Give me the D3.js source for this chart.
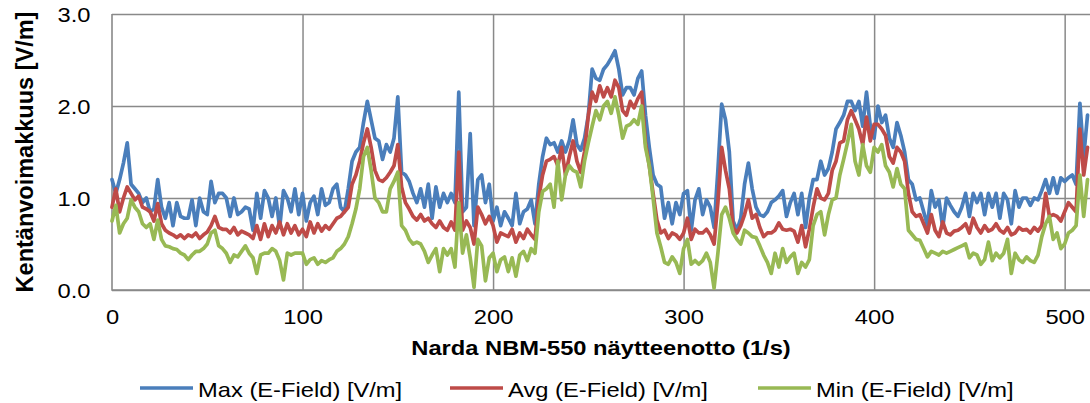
<!DOCTYPE html>
<html>
<head>
<meta charset="utf-8">
<script src="https://cdn.jsdelivr.net/npm/d3@7"></script>
<style>
  html, body { margin: 0; padding: 0; background: #fff; }
  svg { display: block; }
  text { font-family: "Liberation Sans", Arial, sans-serif; fill: #000; }
</style>
</head>
<body>
<div id="chart"></div>
<script>
// Sample step: one reading every 2 samples (0, 2, 4 ... 512)
const sampleStep = 2;

// Max (E-Field) [V/m]
const maxValues = [
  1.2, 1.05, 1.2, 1.38, 1.6, 1.15, 1.1, 1.05, 0.95, 1.0,
  0.85, 0.88, 1.2, 0.9, 0.78, 0.95, 0.7, 0.95, 0.8, 0.78,
  0.78, 0.98, 0.7, 1.0, 0.85, 0.82, 1.18, 0.95, 1.05, 1.05,
  1.0, 0.8, 1.0, 0.82, 0.85, 0.9, 0.88, 0.65, 1.05, 0.78,
  1.08, 1.0, 0.8, 1.0, 0.68, 1.08, 1.0, 0.85, 1.1, 0.82,
  1.05, 0.75, 0.95, 1.02, 0.82, 1.1, 0.92, 0.95, 1.1, 1.15,
  0.9, 0.85, 1.1, 1.4, 1.5, 1.55, 1.82, 2.05, 1.85, 1.65,
  1.62, 1.42, 1.58, 1.5, 1.65, 2.1, 1.28, 1.25, 1.18, 1.05,
  0.95, 1.1, 0.9, 1.15, 0.78, 1.12, 0.9, 1.05, 0.95, 1.05,
  0.95, 2.15, 0.85, 0.9, 1.7, 0.7, 1.2, 1.25, 0.95, 1.15,
  0.75, 0.9, 0.7, 0.85, 0.78, 0.7, 1.05, 0.72, 0.85, 0.88,
  0.98, 0.72, 1.15, 1.45, 1.65, 1.58, 1.6, 1.5, 1.62, 1.5,
  1.62, 1.85, 1.58, 1.52, 1.65, 1.9, 2.4, 2.3, 2.28, 2.4,
  2.45, 2.52, 2.6, 2.4, 2.12, 2.2, 2.2, 2.12, 2.3, 2.38,
  1.9, 1.55, 1.25, 1.15, 1.12, 0.78, 0.95, 0.72, 0.95, 0.82,
  1.05, 1.08, 0.65, 0.98, 1.1, 0.82, 0.98, 0.9, 0.68, 1.3,
  2.02, 1.85, 1.5, 0.75, 0.65, 0.78, 1.15, 1.38, 1.1, 0.9,
  0.82, 0.8, 0.85, 0.95, 0.98, 1.02, 1.08, 0.8, 0.95, 1.05,
  0.82, 1.05, 0.68, 1.0, 1.2, 1.2, 1.4, 1.25, 1.32, 1.5,
  1.75, 1.82, 1.9, 2.05, 2.05, 1.95, 2.05, 1.78, 2.15, 1.78,
  1.65, 2.0, 1.82, 1.9, 1.65, 1.55, 1.82, 1.68, 1.5, 1.2,
  1.15, 0.98, 1.0, 0.85, 0.7, 1.08, 0.9, 0.98, 0.68, 1.0,
  0.92, 0.85, 0.8, 0.9, 1.05, 0.8, 1.05, 0.95, 1.05, 0.82,
  1.05, 0.9, 1.05, 0.78, 1.05, 0.98, 0.72, 1.08, 0.9, 1.0,
  1.0, 0.92, 1.0, 0.98, 1.08, 1.2, 1.05, 1.22, 1.05, 1.22,
  1.18, 1.22, 1.25, 1.15, 2.03, 1.45, 1.9
];

// Avg (E-Field) [V/m]
const avgValues = [
  0.9, 1.1, 0.85, 1.0, 1.12, 1.05, 0.98, 1.02, 0.9, 0.88,
  0.85, 0.75, 0.94, 0.72, 0.65, 0.62, 0.6, 0.57, 0.6, 0.56,
  0.6, 0.58, 0.62, 0.56, 0.6, 0.63, 0.7, 0.8, 0.68, 0.66,
  0.66, 0.62, 0.68, 0.6, 0.64, 0.62, 0.6, 0.56, 0.7, 0.55,
  0.72, 0.58, 0.7, 0.62, 0.74, 0.6, 0.72, 0.62, 0.7, 0.6,
  0.66, 0.58, 0.74, 0.62, 0.72, 0.64, 0.7, 0.66, 0.72, 0.78,
  0.8, 0.85, 0.9, 1.15, 1.25, 1.4, 1.6, 1.75, 1.55, 1.3,
  1.2, 1.18, 1.22, 1.28, 1.35, 1.58, 1.12, 0.95, 0.88, 0.8,
  0.76, 0.82, 0.75, 0.78, 0.72, 0.68, 0.75, 0.68, 0.65, 0.74,
  0.65, 1.5, 0.65, 0.75, 0.68, 0.5, 0.9, 0.82, 0.72, 0.8,
  0.7, 0.52, 0.62, 0.6, 0.58, 0.66, 0.52, 0.62, 0.56, 0.66,
  0.6, 0.55, 1.0, 1.25, 1.4, 1.42, 1.45, 1.35, 1.55, 1.25,
  1.45, 1.62, 1.4, 1.28, 1.5, 1.9, 2.15, 2.05, 2.22, 2.1,
  2.2, 2.1, 2.28, 2.2, 1.95, 1.9, 2.05, 1.98, 2.08, 2.15,
  1.6, 1.35, 1.05, 0.76, 0.62, 0.65, 0.56, 0.62, 0.6, 0.55,
  0.62, 0.78, 0.55, 0.66, 0.62, 0.62, 0.66, 0.6, 0.5, 0.95,
  1.55, 1.3, 1.1, 0.68, 0.62, 0.7, 0.82, 0.98, 0.78, 0.82,
  0.68, 0.58, 0.62, 0.62, 0.65, 0.73, 0.66, 0.65, 0.66, 0.64,
  0.52, 0.7, 0.47, 0.66, 0.9, 1.1, 1.0, 0.98, 1.05, 1.3,
  1.4, 1.6, 1.62, 1.85, 1.95, 1.85, 1.75, 1.58, 1.88, 1.62,
  1.8, 1.8, 1.75, 1.68, 1.45, 1.38, 1.55, 1.5, 1.4, 1.05,
  0.85, 0.8, 0.82, 0.72, 0.62, 0.82, 0.65, 0.58, 0.74, 0.62,
  0.6, 0.64, 0.65, 0.68, 0.72, 0.62, 0.78, 0.68, 0.62, 0.7,
  0.64, 0.66, 0.72, 0.65, 0.62, 0.68, 0.6, 0.62, 0.68, 0.65,
  0.66, 0.62, 0.68, 0.64, 0.7, 1.05, 0.8, 0.82, 0.8, 0.75,
  0.85, 0.95, 0.9, 0.85, 1.75, 1.25, 1.55
];

// Min (E-Field) [V/m]
const minValues = [
  0.75, 0.92, 0.62, 0.72, 0.78, 0.98, 0.9, 0.85, 0.72, 0.68,
  0.72, 0.55, 0.76, 0.55, 0.48, 0.47, 0.45, 0.44, 0.4, 0.38,
  0.33, 0.38, 0.42, 0.42, 0.45, 0.5, 0.62, 0.65, 0.48, 0.45,
  0.4, 0.3, 0.38, 0.36, 0.42, 0.48, 0.4, 0.35, 0.18, 0.38,
  0.4, 0.4, 0.45, 0.42, 0.32, 0.11, 0.4, 0.38, 0.4, 0.4,
  0.4, 0.28, 0.33, 0.35, 0.28, 0.32, 0.3, 0.33, 0.35, 0.42,
  0.45, 0.5, 0.58, 0.72, 0.88, 1.1, 1.45, 1.55, 1.3, 1.0,
  0.95, 0.85, 0.85, 1.1, 1.18, 1.28, 0.7, 0.65, 0.55, 0.5,
  0.52, 0.5, 0.42, 0.3, 0.38, 0.45, 0.2, 0.45, 0.38, 0.45,
  0.25, 0.95, 0.4, 0.6, 0.35, 0.03, 0.55, 0.48, 0.1, 0.35,
  0.4, 0.2, 0.33, 0.36, 0.2, 0.35, 0.15, 0.38, 0.42, 0.32,
  0.45, 0.4, 0.85, 1.07, 1.1, 1.15, 0.9, 1.4, 0.98, 1.25,
  1.35, 1.3, 1.28, 1.12, 1.4, 1.6, 1.78, 1.95, 1.85, 2.0,
  2.05, 1.92, 2.1, 1.9, 1.65, 1.78, 1.8, 1.85, 1.8, 2.0,
  1.55, 1.35, 1.0, 0.62, 0.47, 0.3, 0.28, 0.36, 0.3, 0.18,
  0.45, 0.55, 0.28, 0.32, 0.28, 0.32, 0.4, 0.3, 0.02, 0.4,
  0.82, 0.9, 0.78, 0.62, 0.55, 0.5, 0.65, 0.62, 0.58, 0.57,
  0.48, 0.38, 0.3, 0.18, 0.4, 0.25, 0.45, 0.3, 0.36, 0.4,
  0.18, 0.3, 0.25, 0.33, 0.7, 0.82, 0.85, 0.6, 0.82, 0.98,
  1.0, 1.25, 1.42, 1.6, 1.8, 1.4, 1.25, 1.58, 1.35, 1.28,
  1.55, 1.5, 1.58, 1.35, 1.28, 1.12, 1.32, 1.15, 1.1, 0.65,
  0.6, 0.55, 0.54, 0.45, 0.36, 0.42, 0.4, 0.38, 0.42, 0.4,
  0.42, 0.44, 0.46, 0.48, 0.5, 0.35, 0.4, 0.38, 0.28, 0.33,
  0.52, 0.32, 0.4, 0.35, 0.4, 0.55, 0.18, 0.4, 0.33, 0.3,
  0.36, 0.32, 0.3, 0.38, 0.58, 0.72, 0.8, 0.55, 0.62, 0.45,
  0.5, 0.62, 0.65, 0.7, 1.25, 0.8, 1.2
];

const seriesNames = ['Max (E-Field) [V/m]', 'Avg (E-Field) [V/m]', 'Min (E-Field) [V/m]'];
const seriesColors = ['#4A7EBB', '#BE4B48', '#98B954'];
const xTicks = [0, 100, 200, 300, 400, 500];
const yTicks = [0, 1, 2, 3];
const xTitle = 'Narda NBM-550 näytteenotto (1/s)';
const yTitle = 'Kentänvoimakkuus [V/m]';

// Layout
const width = 1090, height = 403;
const plot = { left: 112, right: 1090, top: 14, bottom: 290 };
const gridColor = '#898989';
const stretch = 1.13; // the source picture is slightly wider than tall
const lineWidth = 3.7;

const svg = d3.select('#chart').append('svg')
  .attr('width', width)
  .attr('height', height);

const x = d3.scaleLinear().domain([0, 513.3]).range([plot.left, plot.right]);
const y = d3.scaleLinear().domain([0, 3]).range([plot.bottom, plot.top]);

// Y axis with horizontal gridlines
svg.append('g')
  .attr('transform', `translate(${plot.left},0)`)
  .call(d3.axisLeft(y).tickValues(yTicks).tickFormat(d3.format('.1f'))
    .tickSize(-(plot.right - plot.left)).tickPadding(19))
  .call(g => g.select('.domain').remove())
  .call(g => g.selectAll('.tick line').attr('stroke', gridColor).attr('stroke-width', 1.5))
  .call(g => g.selectAll('.tick text')
    .attr('font-size', 21).attr('font-family', '"Liberation Sans", Arial, sans-serif')
    .attr('dy', '0.36em').attr('transform', `scale(${stretch},1)`));

// X axis with vertical gridlines
svg.append('g')
  .attr('transform', `translate(0,${plot.bottom})`)
  .call(d3.axisBottom(x).tickValues(xTicks).tickFormat(d3.format('d'))
    .tickSize(-(plot.bottom - plot.top)).tickPadding(21))
  .call(g => g.select('.domain').remove())
  .call(g => g.selectAll('.tick line').attr('stroke', gridColor).attr('stroke-width', 1.5)
    .attr('display', d => d === 0 ? 'none' : null))
  .call(g => g.selectAll('.tick text')
    .attr('font-size', 21).attr('font-family', '"Liberation Sans", Arial, sans-serif')
    .attr('dy', '0.6em').attr('transform', `scale(${stretch},1)`));

// Axis lines (left and bottom)
svg.append('path')
  .attr('d', `M${plot.left},${plot.top}V${plot.bottom}H${plot.right}`)
  .attr('fill', 'none')
  .attr('stroke', gridColor)
  .attr('stroke-width', 1.6);

// Series lines
const line = d3.line()
  .x((d, i) => x(i * sampleStep))
  .y(d => y(d));

[maxValues, avgValues, minValues].forEach((vals, k) => {
  svg.append('path')
    .datum(vals)
    .attr('fill', 'none')
    .attr('stroke', seriesColors[k])
    .attr('stroke-width', lineWidth)
    .attr('stroke-linejoin', 'round')
    .attr('stroke-linecap', 'round')
    .attr('d', line);
});

// Axis titles
svg.append('text')
  .attr('transform', `translate(${(plot.left + plot.right) / 2},355) scale(${stretch},1)`)
  .attr('text-anchor', 'middle')
  .attr('font-size', 21)
  .attr('font-weight', 'bold')
  .text(xTitle);

svg.append('text')
  .attr('transform', 'translate(33,152) rotate(-90)')
  .attr('text-anchor', 'middle')
  .attr('font-size', 23.5)
  .attr('font-weight', 'bold')
  .text(yTitle);

// Legend
const legendX = [140, 450, 758];
const legend = svg.append('g');
seriesNames.forEach((name, k) => {
  const g = legend.append('g').attr('transform', `translate(${legendX[k]},0)`);
  g.append('line')
    .attr('x1', 0).attr('x2', 53)
    .attr('y1', 388).attr('y2', 388)
    .attr('stroke', seriesColors[k])
    .attr('stroke-width', lineWidth);
  g.append('text')
    .attr('transform', `translate(58,396.5) scale(${stretch},1)`)
    .attr('font-size', 21)
    .text(name);
});
</script>
</body>
</html>
